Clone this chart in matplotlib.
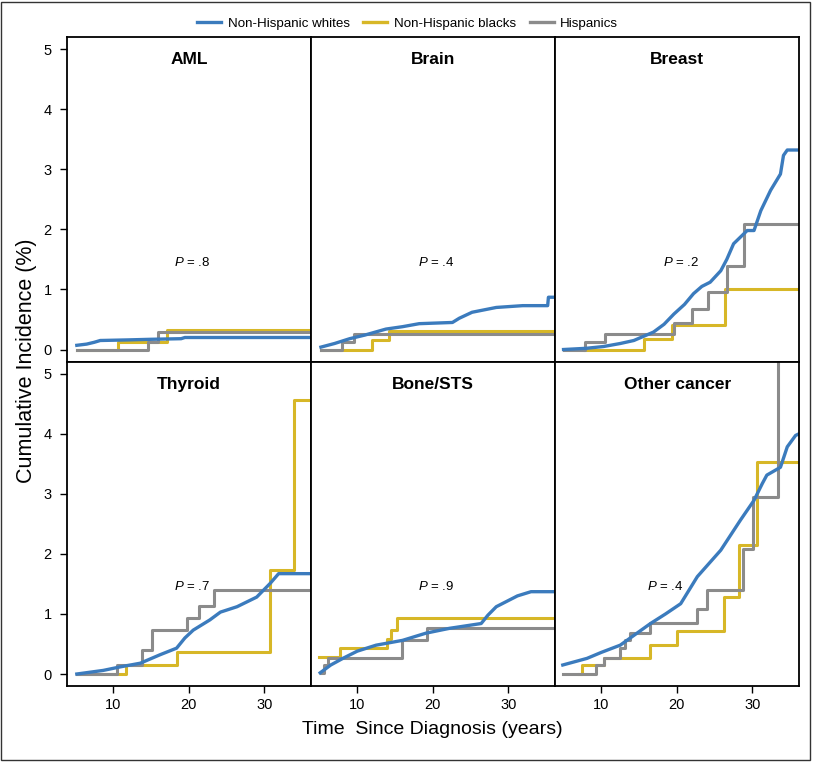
import matplotlib
matplotlib.use("Agg")
import matplotlib.pyplot as plt
from matplotlib.patches import Rectangle

plt.rcParams["font.family"] = ["Liberation Sans", "DejaVu Sans"]
plt.rcParams["mathtext.fontset"] = "custom"
plt.rcParams["mathtext.it"] = "Liberation Sans:italic"
plt.rcParams["mathtext.rm"] = "Liberation Sans"

groups = ["Non-Hispanic whites", "Non-Hispanic blacks", "Hispanics"]
panels = ["AML", "Brain", "Breast", "Thyroid", "Bone/STS", "Other cancer"]
p_values = [".8", ".4", ".2", ".7", ".9", ".4"]
p_xpos = [20.5, 20.5, 20.5, 20.4, 20.5, 18.5]

# non-Hispanic whites (dense small steps, drawn as a line)
white_t = [
    [5.2, 6.5, 7.5, 8.3, 12, 15, 19, 19.5, 36.2],
    [5.2, 7, 9, 11, 13.8, 16, 18.2, 22.6, 23.5, 25.2, 28.4, 31.9, 35.2, 35.3, 36.2],
    [5.0, 8, 10.3, 12.5, 14.3, 16.9, 18.3, 19.6, 21, 22.2, 23.3, 24.4, 25.8, 26.6,
     27.5, 29.3, 30.2, 31.1, 32.4, 33.7, 34.1, 34.6, 36.2],
    [5.2, 8.7, 11, 13.6, 16.2, 18.4, 19.5, 20.6, 22.8, 24.2, 26.4, 29.0, 30.8, 31.9, 36.2],
    [5.1, 6.5, 8.1, 10, 12.5, 16.0, 19.1, 22.2, 26.4, 27.3, 28.4, 31.2, 33.0, 36.2],
    [4.9, 8.1, 10, 12.5, 14.5, 16.5, 18.5, 20.5, 22.7, 25.8, 28.4, 30.2, 31.3, 31.9,
     33.7, 34.6, 35.7, 36.2],
]
white_v = [
    [0.07, 0.09, 0.12, 0.15, 0.16, 0.17, 0.18, 0.2, 0.2],
    [0.04, 0.1, 0.18, 0.24, 0.34, 0.38, 0.43, 0.45, 0.52, 0.62, 0.70, 0.73, 0.73, 0.87, 0.87],
    [0, 0.02, 0.05, 0.1, 0.15, 0.29, 0.42, 0.59, 0.75, 0.93, 1.05, 1.12, 1.31, 1.5,
     1.76, 1.98, 1.98, 2.31, 2.65, 2.92, 3.23, 3.32, 3.32],
    [0, 0.06, 0.12, 0.18, 0.32, 0.43, 0.6, 0.73, 0.90, 1.03, 1.12, 1.28, 1.51, 1.67, 1.67],
    [0.02, 0.15, 0.26, 0.38, 0.48, 0.56, 0.68, 0.76, 0.84, 0.98, 1.12, 1.30, 1.37, 1.37],
    [0.15, 0.26, 0.36, 0.48, 0.66, 0.84, 1.0, 1.17, 1.62, 2.06, 2.56, 2.89, 3.17, 3.31,
     3.44, 3.78, 3.97, 4.0],
]

# non-Hispanic blacks (step functions)
black_t = [
    [5.2, 10.7, 17.1, 36.2],
    [5.2, 12.0, 14.2, 36.2],
    [7.9, 15.6, 19.4, 26.4, 36.2],
    [5.2, 11.7, 18.5, 30.8, 33.9, 36.2],
    [5.0, 7.7, 13.9, 14.5, 15.2, 36.2],
    [7.0, 7.4, 10.3, 16.5, 20.0, 26.2, 28.2, 30.6, 36.2],
]
black_v = [
    [0, 0.12, 0.33, 0.33],
    [0, 0.15, 0.30, 0.30],
    [0, 0.18, 0.40, 1.0, 1.0],
    [0, 0.15, 0.37, 1.73, 4.56, 4.56],
    [0.29, 0.44, 0.59, 0.74, 0.94, 0.94],
    [0, 0.15, 0.26, 0.48, 0.71, 1.28, 2.15, 3.53, 3.53],
]

# Hispanics (step functions)
hisp_t = [
    [5.2, 14.6, 16.0, 36.2],
    [5.2, 8.0, 9.6, 36.2],
    [5.0, 7.9, 10.5, 19.6, 22.0, 24.1, 26.6, 28.9, 36.2],
    [5.2, 10.5, 13.8, 15.1, 19.8, 21.4, 23.4, 36.2],
    [5.2, 5.6, 6.2, 15.9, 19.2, 36.2],
    [4.9, 9.3, 10.3, 12.5, 13.1, 13.8, 16.5, 22.7, 24.0, 28.8, 30.1, 33.4],
]
hisp_v = [
    [0, 0.12, 0.29, 0.29],
    [0, 0.12, 0.25, 0.25],
    [0, 0.12, 0.25, 0.44, 0.68, 0.95, 1.39, 2.09, 2.09],
    [0, 0.15, 0.40, 0.74, 0.93, 1.13, 1.40, 1.40],
    [0.02, 0.15, 0.26, 0.56, 0.76, 0.76],
    [0, 0.15, 0.26, 0.43, 0.56, 0.69, 0.85, 1.09, 1.40, 2.08, 2.95, 6.0],
]

colors = ["#3b7bbd", "#d7b727", "#8b8b8b"]

fig, axes = plt.subplots(2, 3, figsize=(8.14, 7.62), dpi=100, sharex=True, sharey=True)
fig.subplots_adjust(left=0.0823, right=0.982, top=0.9514, bottom=0.0997, wspace=0, hspace=0)

for i, ax in enumerate(axes.flat):
    ax.step(black_t[i], black_v[i], where="post", color=colors[1], lw=2.2)
    ax.step(hisp_t[i], hisp_v[i], where="post", color=colors[2], lw=2.2)
    ax.plot(white_t[i], white_v[i], color=colors[0], lw=2.4)
    ax.set_xlim(3.9, 36.2)
    ax.set_ylim(-0.2, 5.2)
    ax.set_title(panels[i], fontsize=12.5, fontweight="bold", y=0.89)
    ax.text(p_xpos[i], 1.45, "$P$ = " + p_values[i], ha="center", va="center", fontsize=9.5)
    for s in ax.spines.values():
        s.set_linewidth(1.3)
    ax.tick_params(direction="out", length=5, width=1, labelsize=10.5,
                   bottom=(i >= 3), left=(i % 3 == 0))
    ax.tick_params(axis="y", pad=6)

axes[1, 0].set_xticks([10, 20, 30])
axes[1, 0].set_yticks([0, 1, 2, 3, 4, 5])

fig.text(0.033, 0.526, "Cumulative Incidence (%)", rotation=90, ha="center", va="center", fontsize=15.5)
fig.text(0.531, 0.042, "Time  Since Diagnosis (years)", ha="center", va="center", fontsize=14)

handles = [plt.Line2D([], [], color=c, lw=2.4) for c in colors]
fig.legend(handles, groups, loc="center", bbox_to_anchor=(0.501, 0.969), ncol=3, frameon=False,
           fontsize=9.6, handlelength=1.8, handletextpad=0.5, columnspacing=1.0)

fig.patches.append(Rectangle((0.0012, 0.0026), 0.9938, 0.9948, transform=fig.transFigure,
                             fill=False, edgecolor="#333333", lw=1))

fig.savefig("out.png", dpi=100)
